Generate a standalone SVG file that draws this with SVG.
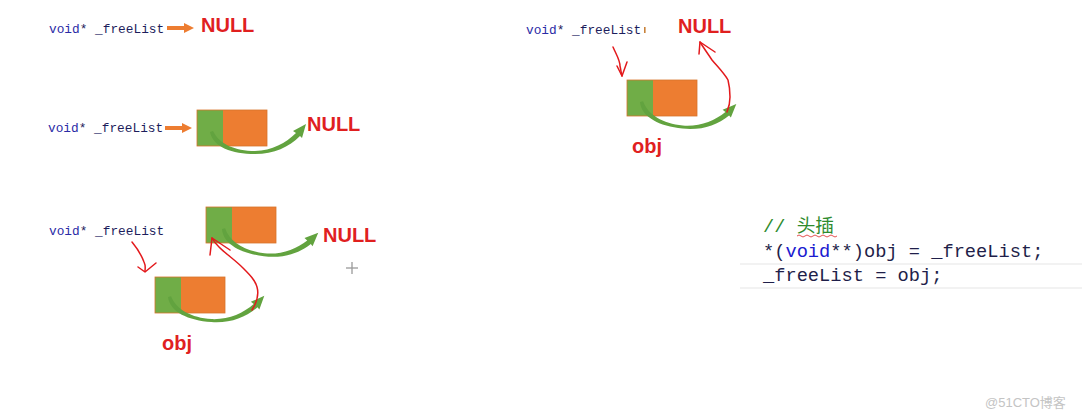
<svg xmlns="http://www.w3.org/2000/svg" width="1082" height="418" viewBox="0 0 1082 418">
<style>
.ptr{font-family:"Liberation Mono","DejaVu Sans Mono",monospace;font-size:12.8px}
.kw{fill:#2b2ba6}
.id{fill:#1d1d5c}
.null{font-family:"Liberation Sans",Arial,sans-serif;font-weight:bold;font-size:20px;fill:#e0201f}
.code{font-family:"Liberation Mono","DejaVu Sans Mono","Noto Sans CJK SC",monospace;font-size:18.7px;fill:#1f1f4a}
.ck{fill:#1b1bd0}
.cm{fill:#2e8b2e}
.red{fill:none;stroke:#e3191c;stroke-width:1.5;stroke-linecap:round;stroke-linejoin:round}
.g{fill:#70ad47}
.o{fill:#ed7d31}
.frame{fill:none;stroke:#d7742c;stroke-width:0.8}
.sep{stroke:#e6e6e6;stroke-width:1.2}
.wm{font-family:"Liberation Sans","Noto Sans CJK SC",sans-serif;font-size:13px;fill:#c4c4c4}
</style>
<defs>
<path id="curve" fill="#62a33f" d="M0,0 C3,15 22,22 45,22 C64,22 79,15 90,4 L92,6 L96,-8 L83,-1 L86,1 C76,11 62,18.5 45,19 C25,19 9,12 3,-1 Z"/>
<marker id="oh" markerWidth="10" markerHeight="10" refX="2" refY="5" orient="auto" markerUnits="userSpaceOnUse"><path d="M0,0 L10,5 L0,10 Z" fill="#ed7d31"/></marker>
<g id="block"><rect class="g" x="0" y="0" width="26" height="36"/><rect class="o" x="26" y="0" width="44" height="36"/><rect class="frame" x="0" y="0" width="70" height="36"/></g>
</defs>
<rect width="1082" height="418" fill="#ffffff"/>

<g id="row1">
<text class="ptr" x="49" y="33"><tspan class="kw">void</tspan><tspan class="id">* _freeList</tspan></text>
<line x1="167" y1="28" x2="186" y2="28" stroke="#ed7d31" stroke-width="4" marker-end="url(#oh)"/>
<text class="null" x="201" y="32">NULL</text>
</g>

<g id="row2">
<text class="ptr" x="48" y="132"><tspan class="kw">void</tspan><tspan class="id">* _freeList</tspan></text>
<line x1="165" y1="128" x2="184" y2="128" stroke="#ed7d31" stroke-width="4" marker-end="url(#oh)"/>
<use href="#block" x="197" y="110"/>
<use href="#curve" transform="translate(210,132)"/>
<text class="null" x="307" y="131">NULL</text>
</g>

<g id="row3">
<text class="ptr" x="49" y="235"><tspan class="kw">void</tspan><tspan class="id">* _freeList</tspan></text>
<use href="#block" x="206" y="207"/>
<use href="#curve" transform="translate(222,229) rotate(7)"/>
<text class="null" x="323" y="242">NULL</text>
<use href="#block" x="155" y="277"/>
<use href="#curve" transform="translate(168,297) rotate(4)"/>
<text class="null" x="162" y="350">obj</text>
</g>

<g id="result">
<text class="ptr" x="526" y="34"><tspan class="kw">void</tspan><tspan class="id">* _freeList</tspan></text>
<rect x="644" y="27" width="1.6" height="6" fill="#c8823a"/>
<text class="null" x="678" y="33">NULL</text>
<use href="#block" x="627" y="80"/>
<use href="#curve" transform="translate(640,102) rotate(6)"/>
<text class="null" x="632" y="153">obj</text>
</g>

<g id="connectors">
<path class="red" d="M132,242 C137,248 141,254 144,262 C146,266 145,269 145,271"/>
<path class="red" d="M138,267 L145,272 L156,263"/>
<path class="red" d="M252,310 C257,302 259,294 257,287 C255,280 250,275 243,268 C235,260 226,254 219,247 C215,243 213,240 212,238"/>
<path class="red" d="M210,255 L212,238 L230,250"/>
<path class="red" d="M613,47 C616,54 620,60 620,66 C621,70 621,73 622,76"/>
<path class="red" d="M617,66 L622,76 L627,62"/>
<path class="red" d="M727,112 C729,107 730,102 730,97 C730,90 729,84 728,80 C724,73 717,66 712,60 C708,54 703,47 700,42"/>
<path class="red" d="M699,54 L700,42 L715,52"/>
</g>

<g id="cursor" stroke="#9a9a9a" stroke-width="1.3">
<line x1="346" y1="268" x2="358" y2="268"/>
<line x1="352" y1="262" x2="352" y2="274"/>
</g>

<g id="code">
<text class="code cm" x="763" y="232">// 头插</text>
<path d="M797,236 q2,-2 4,0 t4,0 t4,0 t4,0 t4,0 t4,0 t4,0 t4,0 t4,0 t4,0" fill="none" stroke="#e04040" stroke-width="0.9"/>
<text class="code" x="763" y="257">*(<tspan class="ck">void</tspan>**)obj = _freeList;</text>
<line class="sep" x1="740" y1="264" x2="1082" y2="264"/>
<text class="code" x="763" y="281">_freeList = obj;</text>
<line class="sep" x1="740" y1="288" x2="1082" y2="288"/>
</g>

<text class="wm" x="985" y="407">@51CTO博客</text>
</svg>
